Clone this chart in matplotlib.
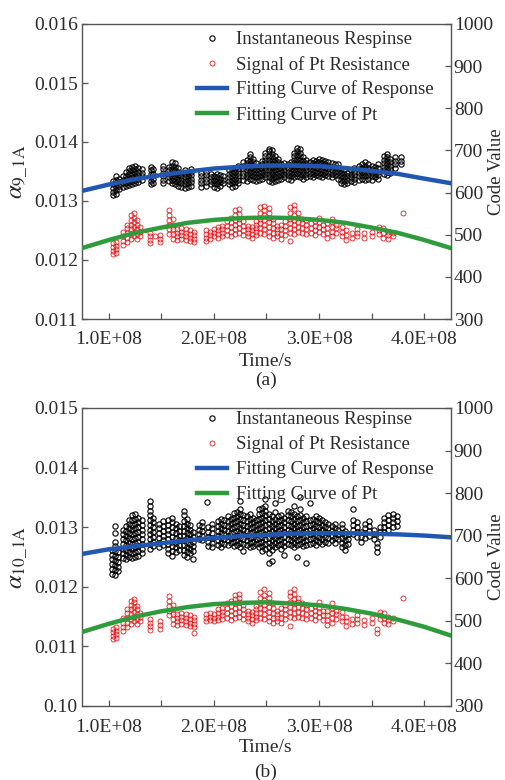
import numpy as np
import matplotlib
matplotlib.use("Agg")
import matplotlib.pyplot as plt

plt.rcParams['font.family'] = ['Liberation Serif', 'DejaVu Serif']
plt.rcParams['mathtext.fontset'] = 'stix'

# ---------------- data (time in 1e8 s, alpha in 1e-3) ----------------
x_ticks = [1.0, 2.0, 3.0, 4.0]
x_minor = [1.5, 2.5, 3.5]
x_tick_labels = ["1.0E+08", "2.0E+08", "3.0E+08", "4.0E+08"]
y_ticks_a = [11, 12, 13, 14, 15, 16]
y_labels_a = ["0.011", "0.012", "0.013", "0.014", "0.015", "0.016"]
y_ticks_b = [10, 11, 12, 13, 14, 15]
y_labels_b = ["0.10", "0.011", "0.012", "0.013", "0.014", "0.015"]
code_ticks = [300, 400, 500, 600, 700, 800, 900, 1000]

legend_labels = ["Instantaneous Respinse", "Signal of Pt Resistance",
                 "Fitting Curve of Response", "Fitting Curve of Pt"]

# instantaneous response, panel (a): (time, [values in a vertical stack])
resp_a = [
    (1.04, [13.10, 13.16, 13.22, 13.28, 13.34]),
    (1.07, [13.12, 13.18, 13.24, 13.30, 13.36, 13.42]),
    (1.10, [13.20, 13.26, 13.32, 13.38]),
    (1.13, [13.24, 13.30, 13.36, 13.42]),
    (1.16, [13.25, 13.31, 13.37, 13.43, 13.49]),
    (1.19, [13.27, 13.33, 13.39, 13.45, 13.51, 13.56]),
    (1.22, [13.28, 13.34, 13.40, 13.46, 13.52, 13.58]),
    (1.25, [13.30, 13.36, 13.42, 13.48, 13.54, 13.60]),
    (1.28, [13.32, 13.38, 13.44, 13.50, 13.56]),
    (1.31, [13.36, 13.42, 13.48, 13.54]),
    (1.40, [13.28, 13.34, 13.40, 13.46, 13.52, 13.58]),
    (1.42, [13.30, 13.38, 13.46, 13.54]),
    (1.51, [13.30, 13.36, 13.42, 13.48, 13.54, 13.60]),
    (1.57, [13.34, 13.40, 13.46, 13.52, 13.58]),
    (1.60, [13.30, 13.36, 13.42, 13.48, 13.54, 13.60, 13.66]),
    (1.63, [13.28, 13.34, 13.40, 13.46, 13.52, 13.58, 13.64]),
    (1.66, [13.26, 13.32, 13.38, 13.44, 13.50, 13.56]),
    (1.69, [13.24, 13.30, 13.36, 13.42, 13.48]),
    (1.72, [13.22, 13.28, 13.34, 13.40, 13.46, 13.52]),
    (1.75, [13.24, 13.30, 13.36, 13.42, 13.48]),
    (1.78, [13.26, 13.32, 13.38, 13.44, 13.50, 13.55]),
    (1.88, [13.24, 13.30, 13.36, 13.42, 13.48]),
    (1.92, [13.26, 13.32, 13.38, 13.44, 13.50]),
    (1.97, [13.28, 13.34, 13.40, 13.46]),
    (2.00, [13.24, 13.30, 13.36, 13.42]),
    (2.03, [13.22, 13.28, 13.34, 13.40, 13.46]),
    (2.06, [13.26, 13.32, 13.38, 13.44]),
    (2.09, [13.30, 13.36, 13.42]),
    (2.14, [13.28, 13.34, 13.40, 13.46, 13.52]),
    (2.17, [13.24, 13.30, 13.36, 13.42, 13.48, 13.54]),
    (2.20, [13.26, 13.32, 13.38, 13.44, 13.50, 13.56]),
    (2.23, [13.30, 13.36, 13.42, 13.48, 13.54, 13.60]),
    (2.28, [13.36, 13.42, 13.48, 13.54, 13.60, 13.66]),
    (2.31, [13.34, 13.40, 13.46, 13.52, 13.58, 13.64, 13.70]),
    (2.34, [13.38, 13.44, 13.50, 13.56, 13.62, 13.68, 13.74, 13.80]),
    (2.37, [13.36, 13.42, 13.48, 13.54, 13.60, 13.66, 13.72]),
    (2.40, [13.34, 13.40, 13.46, 13.52, 13.58, 13.64]),
    (2.43, [13.36, 13.42, 13.48, 13.54, 13.60]),
    (2.46, [13.38, 13.44, 13.50, 13.56, 13.62, 13.68]),
    (2.49, [13.40, 13.46, 13.52, 13.58, 13.64, 13.70, 13.76, 13.82]),
    (2.52, [13.34, 13.40, 13.46, 13.52, 13.58, 13.64, 13.70, 13.76, 13.84, 13.88]),
    (2.55, [13.32, 13.38, 13.44, 13.50, 13.56, 13.62, 13.68, 13.74, 13.80, 13.86]),
    (2.58, [13.34, 13.40, 13.46, 13.52, 13.58, 13.64, 13.70, 13.76]),
    (2.61, [13.36, 13.42, 13.48, 13.54, 13.60, 13.66, 13.72]),
    (2.64, [13.38, 13.44, 13.50, 13.56, 13.62]),
    (2.67, [13.40, 13.46, 13.52, 13.58, 13.64]),
    (2.70, [13.38, 13.44, 13.50, 13.56, 13.62]),
    (2.73, [13.36, 13.42, 13.48, 13.54, 13.60, 13.66]),
    (2.76, [13.40, 13.46, 13.52, 13.58, 13.64, 13.70, 13.76, 13.82]),
    (2.79, [13.42, 13.48, 13.54, 13.60, 13.66, 13.72, 13.78, 13.84, 13.90]),
    (2.82, [13.40, 13.46, 13.52, 13.58, 13.64, 13.70, 13.76, 13.82, 13.88]),
    (2.85, [13.38, 13.44, 13.50, 13.56, 13.62, 13.68, 13.74]),
    (2.88, [13.40, 13.46, 13.52, 13.58, 13.64, 13.70]),
    (2.91, [13.42, 13.48, 13.54, 13.60, 13.66]),
    (2.94, [13.40, 13.46, 13.52, 13.58, 13.64, 13.70]),
    (2.97, [13.44, 13.50, 13.56, 13.62, 13.68]),
    (3.00, [13.42, 13.48, 13.54, 13.60, 13.66, 13.72]),
    (3.03, [13.40, 13.46, 13.52, 13.58, 13.64, 13.70]),
    (3.06, [13.44, 13.50, 13.56, 13.62, 13.68]),
    (3.09, [13.42, 13.48, 13.54, 13.60, 13.66]),
    (3.12, [13.40, 13.46, 13.52, 13.58, 13.64]),
    (3.15, [13.44, 13.50, 13.56, 13.62]),
    (3.18, [13.38, 13.44, 13.50, 13.56, 13.62]),
    (3.21, [13.30, 13.36, 13.42, 13.48, 13.54]),
    (3.24, [13.28, 13.34, 13.40, 13.46, 13.52]),
    (3.27, [13.30, 13.36, 13.42, 13.48]),
    (3.30, [13.34, 13.40, 13.46, 13.52]),
    (3.33, [13.32, 13.38, 13.44, 13.50, 13.56]),
    (3.38, [13.36, 13.42, 13.48, 13.54, 13.60]),
    (3.41, [13.38, 13.44, 13.50, 13.56, 13.62]),
    (3.44, [13.36, 13.42, 13.48, 13.54, 13.60, 13.66]),
    (3.47, [13.38, 13.44, 13.50, 13.56, 13.62]),
    (3.50, [13.36, 13.42, 13.48, 13.54, 13.60]),
    (3.53, [13.40, 13.46, 13.52, 13.58]),
    (3.56, [13.38, 13.44, 13.50, 13.56, 13.62]),
    (3.62, [13.46, 13.52, 13.58, 13.64, 13.70, 13.76]),
    (3.65, [13.44, 13.50, 13.56, 13.62, 13.68, 13.74, 13.80]),
    (3.68, [13.48, 13.54, 13.60, 13.66, 13.72]),
    (3.72, [13.56, 13.62, 13.68, 13.74]),
    (3.78, [13.62, 13.68, 13.74]),
]

# Pt resistance signal, panel (a), on the alpha scale
pt_a = [
    (1.04, [12.10, 12.16, 12.22, 12.28]),
    (1.07, [12.12, 12.18, 12.24, 12.30]),
    (1.13, [12.26, 12.32, 12.40, 12.48]),
    (1.17, [12.30, 12.38, 12.46, 12.54, 12.60]),
    (1.21, [12.36, 12.44, 12.52, 12.60, 12.68, 12.76]),
    (1.24, [12.40, 12.48, 12.56, 12.64, 12.72, 12.80]),
    (1.27, [12.36, 12.44, 12.52, 12.60, 12.68]),
    (1.30, [12.40, 12.48, 12.56]),
    (1.39, [12.28, 12.34, 12.40, 12.46]),
    (1.44, [12.40]),
    (1.49, [12.30, 12.36, 12.42]),
    (1.57, [12.44, 12.52, 12.60, 12.68, 12.76, 12.84]),
    (1.61, [12.36, 12.44, 12.52, 12.60, 12.70]),
    (1.65, [12.34, 12.40, 12.46, 12.52]),
    (1.69, [12.36, 12.42, 12.48, 12.54]),
    (1.73, [12.34, 12.40, 12.46, 12.52]),
    (1.77, [12.32, 12.38, 12.44, 12.50]),
    (1.81, [12.30, 12.36, 12.42, 12.48]),
    (1.92, [12.32, 12.38, 12.44, 12.50]),
    (1.96, [12.36, 12.42, 12.48]),
    (2.00, [12.40, 12.46, 12.52]),
    (2.04, [12.38, 12.44, 12.50, 12.56]),
    (2.08, [12.40, 12.46, 12.52, 12.58]),
    (2.12, [12.42, 12.50, 12.58, 12.66]),
    (2.16, [12.40, 12.48, 12.56, 12.64, 12.72]),
    (2.20, [12.44, 12.52, 12.60, 12.68, 12.76, 12.84]),
    (2.24, [12.46, 12.54, 12.62, 12.70, 12.78, 12.86]),
    (2.28, [12.42, 12.50, 12.58, 12.66]),
    (2.32, [12.40, 12.46, 12.52, 12.58]),
    (2.36, [12.38, 12.44, 12.50, 12.56]),
    (2.40, [12.42, 12.48, 12.54, 12.60, 12.66]),
    (2.44, [12.46, 12.54, 12.62, 12.70, 12.80, 12.90]),
    (2.48, [12.44, 12.52, 12.60, 12.68, 12.76, 12.84, 12.92]),
    (2.52, [12.40, 12.48, 12.56, 12.64, 12.72, 12.80, 12.88]),
    (2.56, [12.38, 12.46, 12.54, 12.62, 12.70]),
    (2.60, [12.40, 12.46, 12.52, 12.58]),
    (2.64, [12.36, 12.44, 12.52, 12.60]),
    (2.68, [12.42, 12.50, 12.58, 12.66]),
    (2.72, [12.32, 12.46, 12.54, 12.62, 12.70, 12.80, 12.90]),
    (2.76, [12.44, 12.52, 12.60, 12.68, 12.76, 12.86, 12.94]),
    (2.80, [12.48, 12.56, 12.64, 12.72, 12.80]),
    (2.84, [12.46, 12.54, 12.62, 12.70]),
    (2.88, [12.44, 12.52, 12.60, 12.68]),
    (2.92, [12.46, 12.54, 12.62]),
    (2.96, [12.42, 12.50, 12.58, 12.66]),
    (3.00, [12.48, 12.56, 12.64, 12.72]),
    (3.04, [12.44, 12.52, 12.60]),
    (3.08, [12.38, 12.46, 12.54, 12.62]),
    (3.12, [12.40, 12.48, 12.56, 12.64, 12.70]),
    (3.16, [12.46, 12.54, 12.60]),
    (3.22, [12.40, 12.48, 12.56]),
    (3.26, [12.34, 12.42, 12.50]),
    (3.31, [12.38, 12.46]),
    (3.36, [12.40, 12.46, 12.52]),
    (3.43, [12.38, 12.46]),
    (3.50, [12.40, 12.48]),
    (3.57, [12.44, 12.50, 12.56]),
    (3.61, [12.38, 12.46, 12.54]),
    (3.66, [12.36, 12.42, 12.48]),
    (3.70, [12.40, 12.46]),
    (3.80, [12.80]),
]

# instantaneous response, panel (b)
resp_b = [
    (1.03, [12.22, 12.30, 12.38, 12.46, 12.54, 12.62]),
    (1.06, [12.20, 12.28, 12.36, 12.44, 12.52, 12.60, 12.68, 12.76, 12.90, 13.02]),
    (1.09, [12.26, 12.34, 12.42, 12.50, 12.58]),
    (1.13, [12.48, 12.56, 12.64, 12.72, 12.80, 12.88, 12.96]),
    (1.16, [12.46, 12.54, 12.62, 12.70, 12.78, 12.86, 12.94, 13.02]),
    (1.19, [12.50, 12.58, 12.66, 12.74, 12.82, 12.90, 12.98, 13.06, 13.12]),
    (1.22, [12.48, 12.56, 12.64, 12.72, 12.80, 12.88, 12.96, 13.04, 13.12, 13.20]),
    (1.25, [12.50, 12.58, 12.66, 12.74, 12.82, 12.90, 12.98, 13.06, 13.14, 13.22]),
    (1.28, [12.52, 12.60, 12.68, 12.76, 12.84, 12.92, 13.00, 13.08, 13.16]),
    (1.31, [12.56, 12.64, 12.72, 12.80, 12.88, 12.96, 13.04, 13.12]),
    (1.39, [12.64, 12.72, 12.80, 12.88, 12.96, 13.04, 13.12, 13.20, 13.28, 13.36, 13.44]),
    (1.42, [12.68, 12.76, 12.84, 12.92, 13.00, 13.08, 13.16]),
    (1.48, [12.66, 12.74, 12.82, 12.90, 12.98, 13.06]),
    (1.51, [12.70, 12.78, 12.86, 12.94, 13.02, 13.10]),
    (1.56, [12.56, 12.64, 12.72, 12.80, 12.88, 12.96, 13.04, 13.12]),
    (1.60, [12.52, 12.60, 12.68, 12.76, 12.84, 12.92, 13.00, 13.08, 13.16]),
    (1.64, [12.58, 12.66, 12.74, 12.82, 12.90, 12.98, 13.06]),
    (1.67, [12.62, 12.70, 12.78, 12.86, 12.94, 13.02]),
    (1.71, [12.54, 12.62, 12.70, 12.78, 12.86, 12.94, 13.02, 13.10, 13.20, 13.28]),
    (1.74, [12.50, 12.58, 12.66, 12.74, 12.82, 12.90, 12.98, 13.06, 13.14]),
    (1.77, [12.56, 12.64, 12.72, 12.80, 12.88, 12.96, 13.04]),
    (1.80, [12.46, 12.60, 12.68, 12.76, 12.84, 12.92]),
    (1.86, [12.80, 12.88, 12.96, 13.04]),
    (1.89, [12.78, 12.86, 12.94, 13.02, 13.08]),
    (1.93, [13.42]),
    (1.94, [12.68, 12.76, 12.84, 12.92, 13.00]),
    (1.98, [12.66, 12.74, 12.82, 12.90, 12.98, 13.06]),
    (2.04, [12.70, 12.78, 12.86, 12.94, 13.02, 13.10]),
    (2.07, [12.66, 12.74, 12.82, 12.90, 12.98, 13.06, 13.14]),
    (2.10, [12.72, 12.80, 12.88, 12.96, 13.04, 13.12]),
    (2.13, [12.70, 12.78, 12.86, 12.94, 13.02, 13.10, 13.18]),
    (2.16, [12.74, 12.82, 12.90, 12.98, 13.06, 13.14]),
    (2.19, [12.68, 12.76, 12.84, 12.92, 13.00, 13.08, 13.16, 13.24]),
    (2.22, [12.70, 12.78, 12.86, 12.94, 13.02, 13.10, 13.18, 13.26]),
    (2.25, [12.66, 12.74, 12.82, 12.90, 12.98, 13.06, 13.14, 13.22, 13.30, 13.44]),
    (2.28, [12.60, 12.72, 12.80, 12.88, 12.96, 13.04, 13.12, 13.20]),
    (2.31, [12.70, 12.78, 12.86, 12.94, 13.02, 13.10, 13.18]),
    (2.34, [12.66, 12.74, 12.82, 12.90, 12.98, 13.06, 13.14, 13.22]),
    (2.37, [12.68, 12.76, 12.84, 12.92, 13.00, 13.08, 13.16]),
    (2.40, [12.72, 12.80, 12.88, 12.96, 13.04, 13.12]),
    (2.43, [12.66, 12.74, 12.82, 12.90, 12.98, 13.06, 13.14, 13.22, 13.30]),
    (2.46, [12.60, 12.68, 12.76, 12.84, 12.92, 13.00, 13.08, 13.16, 13.24, 13.32]),
    (2.49, [12.64, 12.72, 12.80, 12.88, 12.96, 13.04, 13.12, 13.20, 13.28, 13.36, 13.48]),
    (2.52, [12.40, 12.56, 12.66, 12.74, 12.82, 12.90, 12.98, 13.06, 13.14, 13.22]),
    (2.55, [12.44, 12.62, 12.70, 12.78, 12.86, 12.94, 13.02, 13.10, 13.18]),
    (2.58, [12.66, 12.74, 12.82, 12.90, 12.98, 13.06, 13.14, 13.26, 13.40]),
    (2.61, [12.70, 12.78, 12.86, 12.94, 13.02, 13.10, 13.18]),
    (2.64, [12.64, 12.72, 12.80, 12.88, 12.96, 13.04, 13.12, 13.20]),
    (2.67, [12.54, 12.68, 12.76, 12.84, 12.92, 13.00, 13.08, 13.16]),
    (2.70, [12.72, 12.80, 12.88, 12.96, 13.04, 13.12, 13.20, 13.28]),
    (2.73, [12.70, 12.78, 12.86, 12.94, 13.02, 13.10, 13.18, 13.26]),
    (2.76, [12.66, 12.74, 12.82, 12.90, 12.98, 13.06, 13.14, 13.22, 13.36]),
    (2.79, [12.50, 12.70, 12.78, 12.86, 12.94, 13.02, 13.10, 13.18]),
    (2.82, [12.72, 12.80, 12.88, 12.96, 13.04, 13.12, 13.20, 13.30, 13.50]),
    (2.85, [12.68, 12.76, 12.84, 12.92, 13.00, 13.08, 13.16]),
    (2.88, [12.40, 12.70, 12.78, 12.86, 12.94, 13.02, 13.10, 13.18]),
    (2.91, [12.72, 12.80, 12.88, 12.96, 13.04, 13.12, 13.40]),
    (2.94, [12.74, 12.82, 12.90, 12.98, 13.06, 13.14]),
    (2.97, [12.70, 12.78, 12.86, 12.94, 13.02, 13.10, 13.18]),
    (3.00, [12.76, 12.84, 12.92, 13.00, 13.08, 13.16]),
    (3.03, [12.72, 12.80, 12.88, 12.96, 13.04, 13.12]),
    (3.06, [12.76, 12.84, 12.92, 13.00, 13.08]),
    (3.09, [12.74, 12.82, 12.90, 12.98, 13.06]),
    (3.12, [12.78, 12.86, 12.94, 13.02]),
    (3.15, [12.74, 12.82, 12.90, 12.98, 13.06]),
    (3.18, [12.80, 12.88, 12.96]),
    (3.22, [12.66, 12.74, 12.82, 12.90, 12.98, 13.06]),
    (3.25, [12.62, 12.70, 12.78, 12.86, 12.94]),
    (3.28, [12.72, 12.80, 12.88]),
    (3.32, [12.88, 12.96, 13.04, 13.12, 13.30]),
    (3.36, [12.84, 12.92, 13.00, 13.08]),
    (3.40, [12.76, 12.84, 12.92]),
    (3.44, [12.82, 12.90, 12.98, 13.06]),
    (3.48, [12.86, 12.94, 13.02, 13.10]),
    (3.52, [12.80, 12.88, 12.96]),
    (3.55, [12.58, 12.66, 12.74]),
    (3.58, [12.84, 12.92, 13.00]),
    (3.62, [12.92, 13.00, 13.08, 13.16]),
    (3.66, [12.96, 13.04, 13.12, 13.20]),
    (3.70, [13.00, 13.08, 13.16, 13.22]),
    (3.74, [13.02, 13.10, 13.18]),
]

# Pt resistance signal, panel (b), on the alpha scale
pt_b = [
    (1.04, [11.12, 11.18, 11.24, 11.30]),
    (1.07, [11.14, 11.20, 11.26, 11.32]),
    (1.13, [11.26, 11.32, 11.40, 11.48]),
    (1.17, [11.32, 11.40, 11.48, 11.56, 11.62]),
    (1.21, [11.38, 11.46, 11.54, 11.62, 11.70, 11.76]),
    (1.24, [11.42, 11.50, 11.58, 11.66, 11.74, 11.80]),
    (1.27, [11.38, 11.46, 11.54, 11.62, 11.68]),
    (1.30, [11.42, 11.50, 11.56]),
    (1.39, [11.28, 11.34, 11.40, 11.46]),
    (1.49, [11.30, 11.36, 11.42]),
    (1.57, [11.52, 11.60, 11.68, 11.76, 11.84]),
    (1.61, [11.38, 11.46, 11.54, 11.62, 11.70]),
    (1.65, [11.36, 11.42, 11.48, 11.54]),
    (1.69, [11.38, 11.44, 11.50, 11.56]),
    (1.73, [11.36, 11.42, 11.48, 11.54]),
    (1.77, [11.34, 11.40, 11.46, 11.52]),
    (1.81, [11.22, 11.32, 11.38, 11.44, 11.50]),
    (1.92, [11.42, 11.48, 11.54]),
    (1.96, [11.44, 11.50, 11.56]),
    (2.00, [11.42, 11.48, 11.54]),
    (2.04, [11.44, 11.50, 11.56, 11.62]),
    (2.08, [11.46, 11.52, 11.58, 11.64]),
    (2.12, [11.48, 11.56, 11.64, 11.72]),
    (2.16, [11.44, 11.52, 11.60, 11.68, 11.76]),
    (2.20, [11.48, 11.56, 11.64, 11.72, 11.80, 11.86]),
    (2.24, [11.50, 11.58, 11.66, 11.74, 11.82, 11.88]),
    (2.28, [11.46, 11.54, 11.62, 11.70]),
    (2.32, [11.42, 11.48, 11.54, 11.60]),
    (2.36, [11.40, 11.46, 11.52, 11.58]),
    (2.40, [11.44, 11.50, 11.56, 11.62, 11.68]),
    (2.44, [11.48, 11.56, 11.64, 11.72, 11.82, 11.92]),
    (2.48, [11.46, 11.54, 11.62, 11.70, 11.78, 11.86, 11.96]),
    (2.52, [11.42, 11.50, 11.58, 11.66, 11.74, 11.82, 11.90]),
    (2.56, [11.40, 11.48, 11.56, 11.64, 11.72]),
    (2.60, [11.42, 11.48, 11.54, 11.60]),
    (2.64, [11.40, 11.48, 11.56, 11.64]),
    (2.68, [11.46, 11.54, 11.62, 11.70]),
    (2.72, [11.34, 11.50, 11.58, 11.66, 11.74, 11.84, 11.92]),
    (2.76, [11.48, 11.56, 11.64, 11.72, 11.80, 11.88, 11.96]),
    (2.80, [11.50, 11.58, 11.66, 11.74, 11.82]),
    (2.84, [11.48, 11.56, 11.64, 11.72]),
    (2.88, [11.46, 11.54, 11.62, 11.70]),
    (2.92, [11.48, 11.56, 11.64]),
    (2.96, [11.44, 11.52, 11.60, 11.68]),
    (3.00, [11.50, 11.58, 11.66, 11.74]),
    (3.04, [11.44, 11.52, 11.60]),
    (3.08, [11.36, 11.44, 11.52, 11.60]),
    (3.12, [11.40, 11.48, 11.56, 11.64, 11.72]),
    (3.16, [11.46, 11.54, 11.60]),
    (3.22, [11.42, 11.50, 11.58]),
    (3.26, [11.34, 11.42, 11.50]),
    (3.31, [11.38, 11.46]),
    (3.36, [11.40, 11.46, 11.52]),
    (3.43, [11.36, 11.44]),
    (3.50, [11.40, 11.48]),
    (3.55, [11.22, 11.30]),
    (3.58, [11.46, 11.52, 11.58]),
    (3.62, [11.40, 11.48, 11.56]),
    (3.66, [11.38, 11.44, 11.50]),
    (3.70, [11.42, 11.48]),
    (3.80, [11.82]),
]

# fitting curves
fit_t = [0.74, 1.0, 1.25, 1.5, 1.75, 2.0, 2.25, 2.5, 2.75, 3.0, 3.25, 3.5, 3.75, 4.0, 4.26]
fit_resp_a = [13.17, 13.28, 13.37, 13.44, 13.50, 13.55, 13.58, 13.60, 13.60, 13.59, 13.56, 13.51, 13.46, 13.38, 13.30]
fit_pt_a = [12.20, 12.34, 12.46, 12.55, 12.63, 12.68, 12.71, 12.72, 12.71, 12.68, 12.63, 12.55, 12.46, 12.34, 12.20]
fit_resp_b = [12.55, 12.63, 12.68, 12.73, 12.78, 12.82, 12.85, 12.87, 12.89, 12.90, 12.90, 12.89, 12.88, 12.86, 12.83]
fit_pt_b = [11.24, 11.38, 11.50, 11.59, 11.66, 11.71, 11.73, 11.74, 11.72, 11.69, 11.63, 11.55, 11.45, 11.33, 11.18]

# ---------------- drawing ----------------
TXT = '#2b2b2b'
SPINE = '#555555'
BLUE = '#2157b0'
GREEN = '#2f9b3c'
RED = '#e3191c'
FS = 14


def flatten(stacks):
    t = np.array([s[0] for s in stacks for _ in s[1]]) * 1e8
    v = np.array([x for s in stacks for x in s[1]]) * 1e-3
    return t, v


W, H = 506, 780
fig = plt.figure(figsize=(W / 100, H / 100), dpi=100)


def panel(rect, resp, pt, fresp, fpt, yticks, ylabels, ylab, xlab_y, cap_y, cap, leg_y):
    ax = fig.add_axes(rect)
    tr, vr = flatten(resp)
    tp, vp = flatten(pt)
    ft = np.array(fit_t) * 1e8
    h1, = ax.plot(tr, vr, 'o', mfc='none', mec='black', ms=3.8, mew=0.8, zorder=2)
    h2, = ax.plot(tp, vp, 'o', mfc='none', mec=RED, ms=3.6, mew=0.6, zorder=2)
    h3, = ax.plot(ft, np.array(fresp) * 1e-3, '-', color=BLUE, lw=3.2, zorder=3)
    h4, = ax.plot(ft, np.array(fpt) * 1e-3, '-', color=GREEN, lw=3.2, zorder=3)
    ax.set_xlim(0.743e8, 4.257e8)
    ax.set_ylim(yticks[0] * 1e-3, yticks[-1] * 1e-3)
    ax.set_xticks([x * 1e8 for x in x_ticks])
    ax.set_xticklabels(x_tick_labels)
    ax.set_xticks([x * 1e8 for x in x_minor], minor=True)
    ax.set_yticks([y * 1e-3 for y in yticks])
    ax.set_yticklabels(ylabels)
    ax.tick_params(axis='both', which='both', direction='in', length=4, width=0.9,
                   color=SPINE, labelcolor=TXT, labelsize=FS)
    ax.tick_params(axis='x', which='both', pad=9)
    ax.tick_params(axis='y', pad=3)
    for s in ax.spines.values():
        s.set_color(SPINE)
        s.set_linewidth(1.0)
    ax.set_ylabel(ylab, fontsize=FS + 4, color=TXT, labelpad=3)

    ax2 = ax.twinx()
    ax2.set_ylim(300, 1000)
    ax2.set_yticks(code_ticks)
    ax2.tick_params(axis='y', direction='in', length=4, width=0.9, color=SPINE,
                    labelcolor=TXT, labelsize=FS, pad=2)
    for s in ax2.spines.values():
        s.set_visible(False)

    # right-hand axis title, kept inside the canvas
    y0, y1 = rect[1], rect[1] + rect[3]
    fig.text(496.5 / W, (y0 + y1) / 2, 'Code Value', rotation=90, ha='center',
             va='center', fontsize=13.5, color=TXT)

    leg = ax2.legend([h1, h2, h3, h4], legend_labels, loc='upper left',
                     bbox_to_anchor=(0.312, leg_y), frameon=False, fontsize=13.5,
                     handlelength=1.6, handletextpad=0.45, labelspacing=0.38,
                     borderpad=0, borderaxespad=0, numpoints=1, markerscale=1.0)
    for t in leg.get_texts():
        t.set_color(TXT)

    fig.text(266 / W, 1 - xlab_y / H, 'Time/s', ha='center', va='center', fontsize=FS, color=TXT)
    fig.text(266 / W, 1 - cap_y / H, cap, ha='center', va='center', fontsize=FS, color=TXT)
    return ax


panel([82 / W, 1 - 319 / H, 369 / W, 295 / H], resp_a, pt_a, fit_resp_a, fit_pt_a,
      y_ticks_a, y_labels_a, r'$\alpha_{\mathrm{9\_1A}}$', 361, 380, '(a)', 0.975)
panel([82 / W, 1 - 706 / H, 369 / W, 298 / H], resp_b, pt_b, fit_resp_b, fit_pt_b,
      y_ticks_b, y_labels_b, r'$\alpha_{\mathrm{10\_1A}}$', 747, 772, '(b)', 0.99)

fig.savefig('out.png', dpi=100)
